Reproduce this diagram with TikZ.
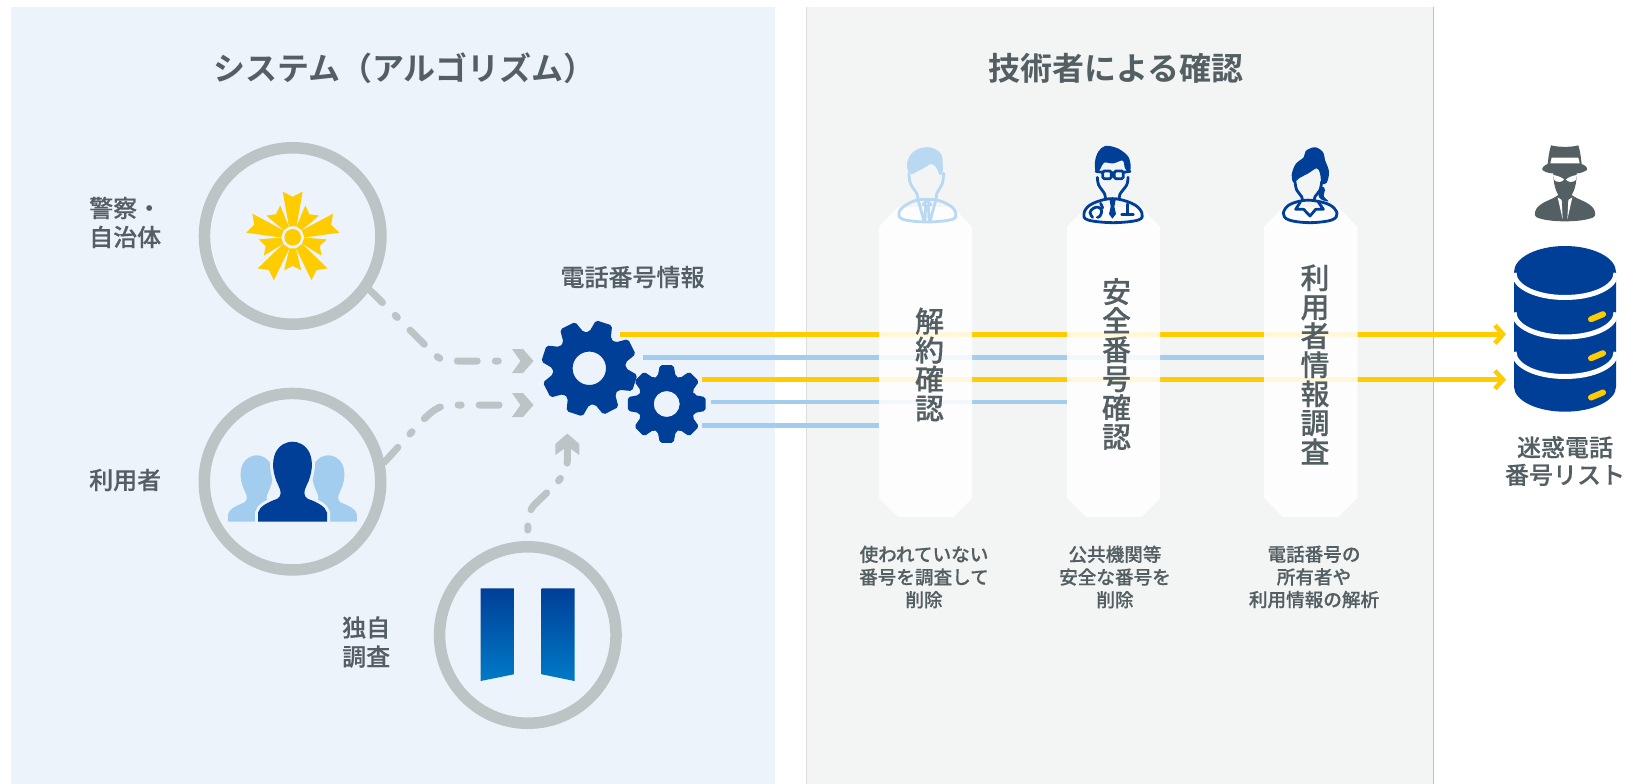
\documentclass[tikz,border=0pt]{standalone}
\usepackage{fontspec}
\usetikzlibrary{arrows.meta}
\setmainfont{Noto Sans CJK JP Medium}[FakeBold=0.3]
\newfontfamily\titlefont{Noto Sans CJK JP Bold}
\lineskiplimit=-100pt
\definecolor{txt}{HTML}{545F64}
\definecolor{panelA}{HTML}{ECF3FB}
\definecolor{panelB}{HTML}{F3F5F4}
\definecolor{ringgray}{HTML}{BDC4C6}
\definecolor{navy}{HTML}{003F98}
\definecolor{sky}{HTML}{A3CDEE}
\definecolor{paleblue}{HTML}{B9D8F2}
\definecolor{gold}{HTML}{FFCC00}
\definecolor{bookend}{HTML}{007AC6}
\tikzset{
  ring/.style={circle,draw=ringgray,line width=11.5pt,minimum size=176.5pt,inner sep=0pt},
  titletext/.style={text=txt,font=\titlefont\fontsize{32}{32}\selectfont,inner sep=0pt},
  label/.style={text=txt,font=\fontsize{24}{29}\selectfont,inner sep=0pt,align=left},
  pillartext/.style={text=txt,font=\fontsize{29}{29}\selectfont,inner sep=0pt,align=center},
  caption/.style={text=txt,font=\fontsize{18.6}{22.7}\selectfont,inner sep=0pt,align=center},
  pillar/.style={fill=white,fill opacity=.85},
  flow/.style={line width=4.6pt},
  goldflow/.style={flow,draw=gold},
  skyflow/.style={flow,draw=sky},
  dashlink/.style={draw=ringgray,line width=7pt,line cap=round,dash pattern=on 20pt off 18pt on 3pt off 18pt},
  chev/.pic={\fill[ringgray] (0,0) -- (-10.5,-12) -- (-21.5,-12) -- (-13,0) -- (-21.5,12) -- (-10.5,12) -- cycle;},
  iconline/.style={line width=2.8pt,line join=round,line cap=round},
}
\newcommand\gear[6]{% x,y,offset,outer,root,hole
  \fill[navy,even odd rule,rounded corners=2pt,shift={(#1,#2)}]
    (#3-18:#5) foreach \a in {0,45,...,315} {
      -- (#3+\a-18:#5) -- (#3+\a-10:#4) -- (#3+\a+10:#4) -- (#3+\a+18:#5)
    } -- cycle (0,0) circle (#6);}
\newcommand\silh{(-34.5,0) -- (-34.5,-9) .. controls (-33,-15) and (-26,-19) .. (-15,-23) .. controls (-11,-26) and (-11,-30) .. (-14,-36) .. controls (-20,-48) and (-21,-60) .. (-17,-69) .. controls (-13,-77) and (-6,-80) .. (0,-80) .. controls (6,-80) and (13,-77) .. (17,-69) .. controls (21,-60) and (20,-48) .. (14,-36) .. controls (11,-30) and (11,-26) .. (15,-23) .. controls (26,-19) and (33,-15) .. (34.5,-9) -- (34.5,0) -- cycle}
\begin{document}
\begin{tikzpicture}[x=1pt,y=-1pt]
\useasboundingbox (0,0) rectangle (1630,784);
\fill[white] (0,0) rectangle (1630,784);
% panels
\fill[panelA] (11,7) rectangle (775,784);
\fill[panelB] (806,7) rectangle (1433,784);
\draw[line width=1pt,draw=black!13] (806,7) -- (806,784);
\draw[line width=1pt,draw=black!25] (1433,7) -- (1433,784);
\node[titletext,anchor=west] (t1) at (213,68) {システム（アルゴリズム）};
\node[titletext] (t2) at (1116,68) {技術者による確認};

% coordinates for flow lines
\coordinate (y1a) at (620,334.3); \coordinate (y1b) at (1506,334.3);
\coordinate (y2a) at (702,379.7); \coordinate (y2b) at (1506,379.7);
\coordinate (b1a) at (643,357.3); \coordinate (b1b) at (1264,357.3);
\coordinate (b2a) at (711,402);   \coordinate (b2b) at (1067,402);
\coordinate (b3a) at (702,425.7); \coordinate (b3b) at (879,425.7);
\draw[skyflow] (b1a) -- (b1b);
\draw[skyflow] (b2a) -- (b2b);
\draw[skyflow] (b3a) -- (b3b);
\draw[goldflow,-{Straight Barb[length=8pt,width=18pt,line width=4.6pt]}] (y1a) -- (y1b);
\draw[goldflow,-{Straight Barb[length=8pt,width=18pt,line width=4.6pt]}] (y2a) -- (y2b);

% pillars
\path[pillar] (879,227) -- (898,207) -- (953,207) -- (972,227) -- (972,498) -- (953,517) -- (898,517) -- (879,498) -- cycle;
\path[pillar] (1067,227) -- (1086,207) -- (1141,207) -- (1160,227) -- (1160,498) -- (1141,517) -- (1086,517) -- (1067,498) -- cycle;
\path[pillar] (1264,227) -- (1283,207) -- (1338,207) -- (1357.5,227) -- (1357.5,498) -- (1338,517) -- (1283,517) -- (1264,498) -- cycle;
\node[pillartext] (p1) at (929.5,364.5) {解\\約\\確\\認};
\node[pillartext] (p2) at (1116.5,364) {安\\全\\番\\号\\確\\認};
\node[pillartext] (p3) at (1315,364.5) {利\\用\\者\\情\\報\\調\\査};
\node[caption] (c1) at (924,577) {使われていない\\番号を調査して\\削除};
\node[caption] (c2) at (1115,577) {公共機関等\\安全な番号を\\削除};
\node[caption] (c3) at (1314,577) {電話番号の\\所有者や\\利用情報の解析};

% rings
\node[ring] (r1) at (292.7,236) {};
\node[ring] (r2) at (292.5,481.7) {};
\node[ring] (r3) at (527.8,635) {};
\node[label,anchor=west] (l1) at (89,222.5) {警察・\\自治体};
\node[label,anchor=west] (l2) at (89,480) {利用者};
\node[label,anchor=west] (l3) at (342,642) {独自\\調査};
\node[label,anchor=center] (l4) at (632.5,277) {電話番号情報};
\node[text=txt,font=\fontsize{24}{27.5}\selectfont,inner sep=0pt,align=center] (l5) at (1565,461) {迷惑電話\\番号リスト};

% dashed connectors
\coordinate (m1a) at (425,345);
\coordinate (m1b) at (450,361);
\coordinate (m1c) at (500,361);
\coordinate (h1) at (533.5,361);
\draw[dashlink,dash phase=2pt] (r1.-35) -- (m1a) .. controls (436,356) and (440,361) .. (m1b) -- (m1c);
\pic at (h1) {chev};
\coordinate (m2a) at (420,423);
\coordinate (m2b) at (452,405);
\coordinate (m2c) at (504,405);
\coordinate (h2) at (533.5,405);
\draw[dashlink] (r2.12) -- (m2a) .. controls (432,411) and (438,405) .. (m2b) -- (m2c);
\pic at (h2) {chev};
\coordinate (m3s) at (527.8,530);
\coordinate (m3a) at (527.8,520);
\coordinate (m3b) at (556,484);
\coordinate (m3c) at (567.3,447);
\coordinate (h3) at (567.3,433.5);
\draw[dashlink,dash pattern=on 4pt off 17pt on 23pt off 17pt on 3pt off 17pt on 30pt off 100pt] (m3s) -- (m3a) .. controls (527.8,516) and (530,510) .. (534,505) -- (m3b) .. controls (564,474) and (567.3,470) .. (567.3,460) -- (m3c);
\pic[rotate=90] at (h3) {chev};

% gears
\gear{589.3}{368.3}{18}{48.5}{36.5}{16.7}
\gear{666.7}{404}{0}{39.5}{29}{13}

% police badge
\begin{scope}[shift={(292.7,237.3)}]
  \fill[gold] (0,0) circle (8.3);
  \foreach \r in {90,162,234,306,18}{
    \begin{scope}[rotate=\r]
      \fill[gold] (11,-3.8) -- (45.7,-10) -- (40.5,0) -- (45.7,10) -- (11,3.8) -- cycle;
    \end{scope}}
  \foreach \r in {54,126,198,270,342}{
    \begin{scope}[rotate=\r]
      \fill[gold] (11,-3.2) -- (33,-8.5) -- (28.5,0) -- (33,8.5) -- (11,3.2) -- cycle;
    \end{scope}}
\end{scope}

% three persons
\begin{scope}[shift={(256.7,521.7)},xscale=.83,yscale=.83]
  \fill[sky] \silh;
\end{scope}
\begin{scope}[shift={(328.3,521.7)},xscale=.83,yscale=.83]
  \fill[sky] \silh;
\end{scope}
\begin{scope}[shift={(292.5,521.7)}]
  \draw[panelA,line width=6pt,line join=round] \silh;
  \fill[panelA] (-40,0) rectangle (40,5);
  \fill[navy] \silh;
\end{scope}

% book
\shade[top color=navy,bottom color=bookend] (480.6,588.3) -- (513.9,588.3) -- (513.9,674.3) -- (480.6,681) -- cycle;
\shade[top color=navy,bottom color=bookend] (541.7,588.3) -- (574.5,588.3) -- (574.5,681) -- (541.7,674.3) -- cycle;

% person 1
\begin{scope}[shift={(895,140)},scale=1/3]
  \fill[paleblue] plot[smooth cycle,tension=.6] coordinates {(40,95) (36,70) (50,40) (75,25) (105,22) (125,30) (140,45) (143,70) (143,95) (135,105) (125,85) (110,72) (85,85) (60,98) (50,102)};
  \draw[iconline,paleblue] plot[smooth,tension=.6] coordinates {(42,100) (46,130) (66,162) (68,180)} ;
  \draw[iconline,paleblue] plot[smooth,tension=.6] coordinates {(146,100) (142,130) (125,162) (124,180)};
  \draw[iconline,paleblue] plot[smooth cycle,tension=.6] coordinates {(68,180) (30,197) (12,218) (24,238) (96,246) (172,238) (182,218) (165,197) (124,180)};
  \draw[iconline,paleblue] (70,182) -- (86,240) (122,182) -- (106,240) (84,195) -- (96,182) -- (108,195) (92,195) -- (90,240) (100,195) -- (102,240);
\end{scope}
% person 2
\begin{scope}[shift={(1080,140)},scale=1/3]
  \fill[navy] plot[smooth cycle,tension=.6] coordinates {(48,98) (45,65) (55,35) (75,18) (105,22) (125,32) (145,50) (152,78) (148,98) (135,85) (128,62) (100,70) (72,68) (62,85)};
  \draw[iconline,navy] plot[smooth,tension=.6] coordinates {(52,112) (56,135) (74,162) (76,178)};
  \draw[iconline,navy] plot[smooth,tension=.6] coordinates {(144,112) (140,135) (120,162) (118,178)};
  \draw[iconline,navy] plot[smooth cycle,tension=.6] coordinates {(76,178) (30,195) (12,220) (24,240) (100,248) (175,240) (186,220) (165,195) (118,178)};
  \draw[iconline,navy,rounded corners=1.5pt] (68,93) rectangle (94,116) (103,93) rectangle (130,116) (94,98) -- (103,98) (68,97) -- (48,94) (130,97) -- (150,94);
  \fill[navy] (89,180) -- (107,180) -- (103,200) -- (108,222) -- (97,236) -- (87,222) -- (92,200) -- cycle;
  \draw[iconline,navy] plot[smooth,tension=.7] coordinates {(38,232) (30,218) (40,205) (55,202) (65,212) (60,228) (52,232)};
  \draw[iconline,navy] (62,190) -- (68,204);
  \draw[iconline,navy] (142,192) -- (142,224) (125,224) -- (160,224);
\end{scope}
% person 3
\begin{scope}[shift={(1275,140)},scale=1/3]
  \fill[navy] plot[smooth cycle,tension=.6] coordinates {(115,22) (92,33) (86,52) (62,72) (50,105) (56,128) (72,115) (100,100) (125,85) (135,100) (140,130) (155,128) (162,95) (150,60) (145,38) (130,25)};
  \draw[iconline,navy] plot[smooth,tension=.6] coordinates {(60,125) (65,150) (80,170) (82,182)};
  \draw[iconline,navy] plot[smooth,tension=.6] coordinates {(140,125) (135,150) (120,170) (118,182)};
  \fill[navy] plot[smooth cycle,tension=.6] coordinates {(142,140) (130,162) (138,178) (160,184) (146,168) (150,150)};
  \draw[iconline,navy] plot[smooth cycle,tension=.6] coordinates {(82,182) (42,195) (25,220) (42,240) (105,248) (170,240) (186,220) (165,195) (118,182)};
  \draw[iconline,navy] (76,186) -- (62,208) -- (86,208) -- (105,228) -- (122,208) -- (145,208) -- (130,186);
\end{scope}
% hat man
\begin{scope}[shift={(1525,140)},scale=1/3]
  \fill[txt] (78,16) .. controls (100,22) and (140,22) .. (160,16) .. controls (166,35) and (168,55) .. (170,72) .. controls (180,76) and (188,82) .. (186,90) .. controls (170,100) and (160,100) .. (155,100) .. controls (155,125) and (150,150) .. (140,165) .. controls (160,180) and (190,185) .. (205,205) .. controls (213,218) and (212,228) .. (205,232) .. controls (170,248) and (70,248) .. (35,232) .. controls (28,228) and (27,218) .. (35,205) .. controls (50,185) and (80,180) .. (100,165) .. controls (90,150) and (85,125) .. (85,100) .. controls (80,100) and (65,100) .. (52,90) .. controls (50,82) and (58,76) .. (68,72) .. controls (70,55) and (72,35) .. (78,16) -- cycle;
  \fill[white] (80,53) -- (160,53) -- (164,70) -- (76,70) -- cycle;
  \fill[white] (84,105) .. controls (95,106) and (110,112) .. (117,118) .. controls (112,128) and (95,128) .. (88,120) -- cycle;
  \fill[white] (156,105) .. controls (145,106) and (130,112) .. (123,118) .. controls (128,128) and (145,128) .. (152,120) -- cycle;
  \fill[white] (98,172) -- (110,180) -- (113,238) -- cycle;
  \fill[white] (142,172) -- (130,180) -- (127,238) -- cycle;
\end{scope}
% database
\fill[navy] (1514,272) .. controls (1514,257.6) and (1536.9,246) .. (1565,246) .. controls (1593.1,246) and (1616,257.6) .. (1616,272) -- (1616,386.7) .. controls (1616,400.5) and (1593.1,411.7) .. (1565,411.7) .. controls (1536.9,411.7) and (1514,400.5) .. (1514,386.7) -- cycle;
\foreach \yy in {0,39.5,79}{
  \draw[white,line width=5pt,shift={(0,\yy)}] (1514,273) .. controls (1514,287.1) and (1536.9,297.5) .. (1565,297.5) .. controls (1593.1,297.5) and (1616,287.1) .. (1616,273);
}
\foreach \yy in {316.7,355.7,395}{
  \draw[gold,line width=6pt,line cap=round] (1591,\yy+2.5) -- (1603,\yy-2.5);
}
\end{tikzpicture}
\end{document}
